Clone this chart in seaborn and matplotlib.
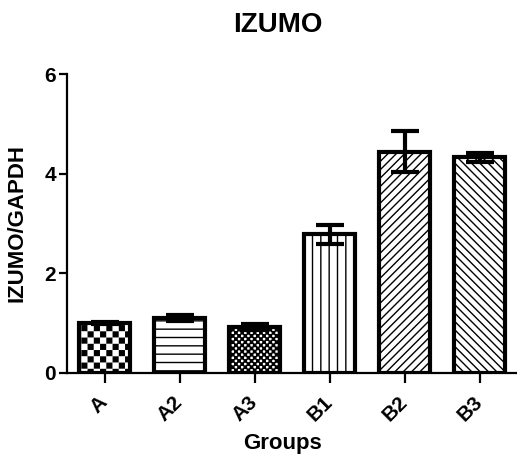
import numpy as np
import pandas as pd
import matplotlib
matplotlib.use('Agg')
import matplotlib.pyplot as plt
import matplotlib.hatch as mhatch
from matplotlib.path import Path
import seaborn as sns

groups = ['A', 'A2', 'A3', 'B1', 'B2', 'B3']
ratio = [1.00, 1.10, 0.92, 2.78, 4.44, 4.33]
sem = [0.02, 0.06, 0.06, 0.19, 0.41, 0.09]
hatches = ['oo', '--', 'oooo', '||', '////', '\\\\\\\\']
yticks = [0, 2, 4, 6]


class Checker(mhatch.HatchPatternBase):
    # checkerboard fill, replaces the circle hatches ('o')
    def __init__(self, hatch, density):
        self.n = hatch.count('o') * 8
        self.num_vertices = (self.n * self.n // 2) * 5

    def set_vertices_and_codes(self, vertices, codes):
        s = 1.0 / self.n
        shrink = 0.12 * s
        square = np.array([[0, 0], [1, 0], [1, 1], [0, 1], [0, 0]]) * (s - 2 * shrink) + shrink
        code = [Path.MOVETO, Path.LINETO, Path.LINETO, Path.LINETO, Path.CLOSEPOLY]
        k = 0
        for i in range(self.n):
            for j in range(self.n):
                if (i + j) % 2 == 0:
                    vertices[k:k + 5] = square + [i * s, j * s]
                    codes[k:k + 5] = code
                    k += 5


mhatch._hatch_types = [h for h in mhatch._hatch_types
                       if h not in (mhatch.SmallCircles, mhatch.LargeCircles)] + [Checker]

sns.set_style('ticks', {'axes.edgecolor': 'black', 'text.color': 'black',
                        'xtick.color': 'black', 'ytick.color': 'black',
                        'axes.labelcolor': 'black'})
plt.rcParams['font.family'] = ['Liberation Sans', 'DejaVu Sans']
plt.rcParams['font.weight'] = 'bold'
plt.rcParams['hatch.linewidth'] = 1.0

df = pd.DataFrame({'Group': groups, 'Ratio': ratio, 'SEM': sem})

fig = plt.figure(figsize=(5.17, 4.57), dpi=100)
ax = fig.add_axes([67 / 517, 1 - 373 / 457, 450 / 517, (373 - 74) / 457])

sns.barplot(data=df, x='Group', y='Ratio', color='white', edgecolor='black',
            linewidth=3, width=0.67, errorbar=None, saturation=1, ax=ax)
for patch, h in zip(ax.patches, hatches):
    patch.set_hatch(h)

ax.errorbar(np.arange(len(groups)), df['Ratio'], yerr=df['SEM'], fmt='none',
            ecolor='black', elinewidth=3, capsize=10, capthick=3, zorder=5)

ax.set_xlim(-0.5, 5.5)
ax.set_ylim(0, 6)
ax.set_yticks(yticks)
sns.despine(ax=ax)
for s in ['left', 'bottom']:
    ax.spines[s].set_linewidth(1.6)
ax.tick_params(axis='y', width=1.6, length=6, labelsize=15, pad=2)
ax.tick_params(axis='x', width=1.6, length=7, labelsize=15, pad=12)
ax.set_xticks(np.arange(len(groups)))
ax.set_xticklabels(groups, rotation=45, ha='right', va='center', rotation_mode='anchor')
for lab in ax.get_xticklabels():
    lab.set_fontweight('bold')
for lab in ax.get_yticklabels():
    lab.set_fontweight('bold')

ax.set_xlabel('Groups', fontsize=16, fontweight='bold')
ax.xaxis.set_label_coords(0.478, -0.2)
ax.set_ylabel('IZUMO/GAPDH', fontsize=16, fontweight='bold')
ax.yaxis.set_label_coords(-0.087, 0.5)

fig.text(0.538, 0.945, 'IZUMO', ha='center', va='center', fontsize=20, fontweight='bold')

fig.savefig('out.png', dpi=100)
